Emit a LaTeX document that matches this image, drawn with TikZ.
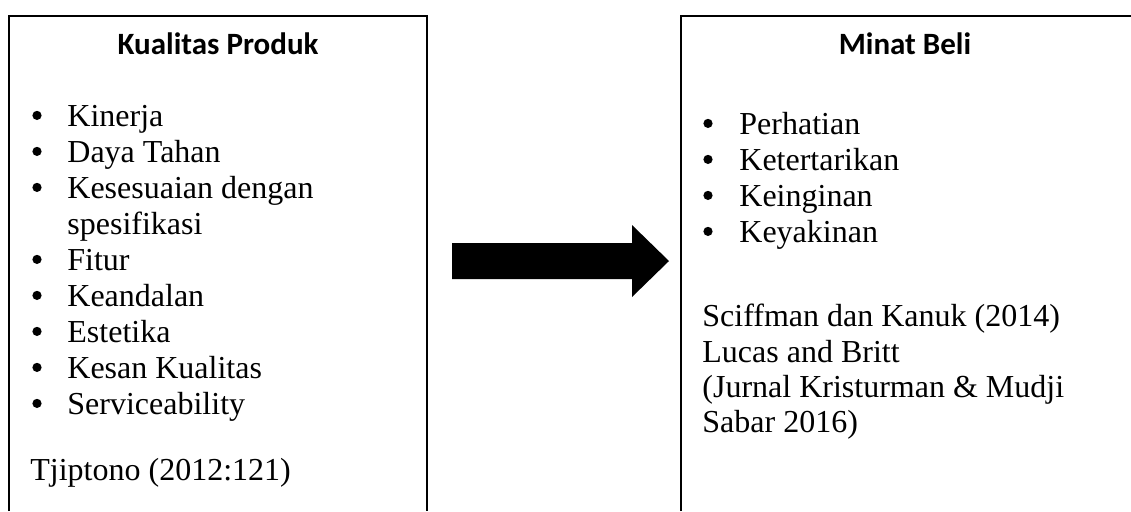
\documentclass[tikz,border=0pt]{standalone}
\usepackage{fontspec}
\setmainfont{Liberation Serif}
\newfontfamily\titlefont{Carlito}
\begin{document}
\begin{tikzpicture}[x=0.5pt,y=-0.5pt,
  frame/.style={line width=1pt, draw=black},
  txt/.style={anchor=base west, inner sep=0pt, font=\fontsize{16}{19}\selectfont},
  bul/.style={circle, fill=black, inner sep=0pt, minimum size=4.6pt, yshift=5.3pt},
  ttl/.style={anchor=base, inner sep=0pt, font=\titlefont\bfseries\fontsize{15.5}{18}\selectfont},
  blockarrow/.style={fill=black, draw=none}]
\useasboundingbox (0,0) rectangle (1131,511);
% left box
\coordinate (LBl) at (9,511);
\coordinate (LTl) at (9,16);
\coordinate (LTr) at (427,16);
\coordinate (LBr) at (427,511);
\draw[frame] (LBl) -- (LTl) -- (LTr) -- (LBr);
% right box
\coordinate (RBl) at (681,511);
\coordinate (RTl) at (681,16);
\coordinate (RTr) at (1131,16);
\draw[frame] (RBl) -- (RTl) -- (RTr);
% titles
\node[ttl] (t1) at (218,54) {Kualitas Produk};
\node[ttl] (t2) at (905,54) {Minat Beli};
% left list
\foreach \y/\t [count=\i] in {126/Kinerja,162/Daya Tahan,198/Kesesuaian dengan,270/Fitur,306/Keandalan,342/Estetika,378/Kesan Kualitas,414/Serviceability}{
  \node[bul] (lb\i) at (37,\y) {};
  \node[txt] (lt\i) at (67,\y) {\t};
}
\node[txt] (lspes) at (67,234) {spesifikasi};
\node[txt] (lref) at (30,480) {Tjiptono (2012:121)};
% right list
\foreach \y/\t [count=\i] in {134/Perhatian,170/Ketertarikan,206/Keinginan,242/Keyakinan}{
  \node[bul] (rb\i) at (708,\y) {};
  \node[txt] (rt\i) at (739,\y) {\t};
}
\node[txt] (r1) at (702,326) {Sciffman dan Kanuk (2014)};
\node[txt] (r2) at (702,362) {Lucas and Britt};
\node[txt] (r3) at (702,397) {(Jurnal Kristurman \& Mudji};
\node[txt] (r4) at (702,432) {Sabar 2016)};
% block arrow
\coordinate (a1) at (452,243);
\coordinate (a2) at (632,243);
\coordinate (a3) at (632,225);
\coordinate (a4) at (669,261);
\coordinate (a5) at (632,297);
\coordinate (a6) at (632,279);
\coordinate (a7) at (452,279);
\fill[blockarrow] (a1) -- (a2) -- (a3) -- (a4) -- (a5) -- (a6) -- (a7) -- cycle;
\end{tikzpicture}
\end{document}
